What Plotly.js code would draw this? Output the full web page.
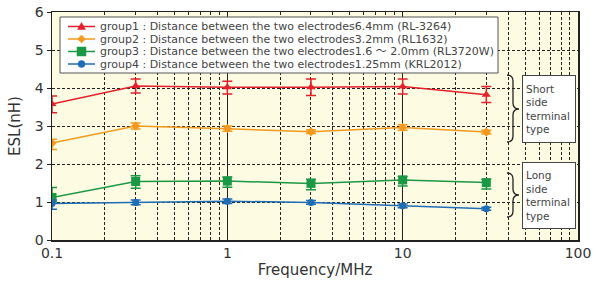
<!DOCTYPE html>
<html><head><meta charset="utf-8">
<script src="https://cdn.plot.ly/plotly-3.0.1.min.js"></script>
<style>html,body{margin:0;padding:0;background:#fff}#c{width:593px;height:282px}</style>
</head><body><div id="c"></div>
<script>
const freq = [0.1, 0.3, 1, 3, 10, 30];
const names = [
  "group1 : Distance between the two electrodes6.4mm (RL-3264)",
  "group2 : Distance between the two electrodes3.2mm (RL1632)",
  "group3 : Distance between the two electrodes1.6 ～ 2.0mm (RL3720W)",
  "group4 : Distance between the two electrodes1.25mm (KRL2012)"
];
const g1 = [3.58, 4.05, 4.02, 4.02, 4.04, 3.82];
const g1Up = [0.21, 0.19, 0.16, 0.22, 0.2, 0.22];
const g1Dn = [0.23, 0.18, 0.18, 0.22, 0.2, 0.2];
const g2 = [2.55, 3.0, 2.93, 2.85, 2.96, 2.84];
const g2Up = [0.1, 0.08, 0.07, 0.05, 0.07, 0.05];
const g2Dn = [0.17, 0.08, 0.07, 0.05, 0.07, 0.05];
const g3 = [1.12, 1.54, 1.55, 1.49, 1.58, 1.51];
const g3Up = [0.26, 0.15, 0.11, 0.11, 0.09, 0.09];
const g3Dn = [0.12, 0.18, 0.16, 0.17, 0.16, 0.17];
const g4 = [0.96, 0.99, 1.02, 0.99, 0.9, 0.82];
const g4Up = [0.09, 0.06, 0.06, 0.05, 0.05, 0.04];
const g4Dn = [0.15, 0.06, 0.06, 0.05, 0.05, 0.04];
const colors = ["#e3202b", "#f39a1e", "#1b9846", "#1f6db5"];
const symbols = ["triangle-up", "diamond", "square", "circle"];
const msizes = [8, 7, 9, 7];
const vals = [g1, g2, g3, g4], ups = [g1Up, g2Up, g3Up, g4Up], dns = [g1Dn, g2Dn, g3Dn, g4Dn];
const xTicks = [0.1, 1, 10, 100];
const xTickText = ["0.1", "1", "10", "100"];
const yTicks = [0, 1, 2, 3, 4, 5, 6];
const minorX = [0.2,0.3,0.4,0.5,0.6,0.7,0.8,0.9,2,3,4,5,6,7,8,9,20,30,40,50,60,70,80,90];

const traces = vals.map((v, i) => ({
  x: freq, y: v, name: names[i], type: "scatter", mode: "lines+markers",
  line: {color: colors[i], width: 1.5},
  marker: {color: colors[i], symbol: symbols[i], size: msizes[i]},
  error_y: {type: "data", symmetric: false, array: ups[i], arrayminus: dns[i], color: colors[i], thickness: 1.5, width: 5}
}));

const L = 52, R = 578, T = 12, B = 240;
const px = x => (x - L) / (R - L);
const py = y => (B - y) / (B - T);
function brace(x0, xm, x1, y0, ymid, y1) {
  const r = 6;
  return `M ${px(x0)} ${py(y0)} Q ${px(xm)} ${py(y0)} ${px(xm)} ${py(y0 + r)} L ${px(xm)} ${py(ymid - r)} Q ${px(xm)} ${py(ymid)} ${px(x1)} ${py(ymid)} Q ${px(xm)} ${py(ymid)} ${px(xm)} ${py(ymid + r)} L ${px(xm)} ${py(y1 - r)} Q ${px(xm)} ${py(y1)} ${px(x0)} ${py(y1)}`;
}
function markerPath(sym, cx, cy) {
  if (sym === "triangle-up") return `M ${px(cx - 4)} ${py(cy + 3)} L ${px(cx + 4)} ${py(cy + 3)} L ${px(cx)} ${py(cy - 4)} Z`;
  if (sym === "diamond") return `M ${px(cx - 4)} ${py(cy)} L ${px(cx)} ${py(cy - 4)} L ${px(cx + 4)} ${py(cy)} L ${px(cx)} ${py(cy + 4)} Z`;
  if (sym === "square") return `M ${px(cx - 4.5)} ${py(cy - 4.5)} L ${px(cx + 4.5)} ${py(cy - 4.5)} L ${px(cx + 4.5)} ${py(cy + 4.5)} L ${px(cx - 4.5)} ${py(cy + 4.5)} Z`;
  return null;
}
const font = "'DejaVu Sans', 'Noto Sans CJK JP', sans-serif";

// manual legend
const legShapes = [{type: "rect", xref: "paper", yref: "paper", x0: px(60), x1: px(498), y0: py(17), y1: py(73),
  fillcolor: "#ffffff", line: {color: "#555", width: 1}, layer: "above"}];
const legAnn = [];
const rowY = [26.5, 39, 51.5, 64];
names.forEach((n, i) => {
  const y = rowY[i];
  legShapes.push({type: "line", xref: "paper", yref: "paper", x0: px(68), x1: px(95), y0: py(y), y1: py(y), line: {color: colors[i], width: 1.5}, layer: "above"});
  const p = markerPath(symbols[i], 81.5, y);
  if (p) legShapes.push({type: "path", xref: "paper", yref: "paper", path: p, fillcolor: colors[i], line: {color: colors[i], width: 0.5}, layer: "above"});
  else legShapes.push({type: "circle", xref: "paper", yref: "paper", x0: px(78), x1: px(85), y0: py(y - 3.5), y1: py(y + 3.5), fillcolor: colors[i], line: {color: colors[i], width: 0.5}, layer: "above"});
  legAnn.push({xref: "paper", yref: "paper", x: px(98), y: py(y), xanchor: "left", yanchor: "middle", showarrow: false,
    text: n, font: {size: 11, color: "#444", family: font}});
});

const layout = {
  width: 593, height: 282,
  margin: {l: L, r: 593 - R, t: T, b: 282 - B},
  paper_bgcolor: "#ffffff", plot_bgcolor: "#fdfbe2",
  font: {family: font, color: "#333"},
  showlegend: false,
  xaxis: {type: "log", range: [-1, 2], tickmode: "array", tickvals: xTicks, ticktext: xTickText,
    showline: true, linecolor: "#222", linewidth: 1.5, mirror: true,
    showgrid: true, gridcolor: "#222", gridwidth: 1,
    ticks: "", tickfont: {size: 14, color: "#333"},
    minor: {tickmode: "array", tickvals: minorX, showgrid: true, gridcolor: "#222", griddash: "3px,2px", gridwidth: 1, ticks: ""},
    title: {text: "Frequency/MHz", font: {size: 15, color: "#333"}, standoff: 4},
    zeroline: false},
  yaxis: {range: [0, 6.0001], tickmode: "array", tickvals: yTicks,
    showline: true, linecolor: "#222", linewidth: 1.5, mirror: true,
    showgrid: true, gridcolor: "#222", griddash: "3px,2px", gridwidth: 1,
    ticks: "outside", ticklen: 4, tickcolor: "#222", tickfont: {size: 14, color: "#333"},
    title: {text: "ESL(nH)", font: {size: 15, color: "#333"}, standoff: 10},
    zeroline: false},
  shapes: [
    {type: "path", xref: "paper", yref: "paper", path: brace(507, 513, 519, 75, 109, 142), line: {color: "#222", width: 1.3}},
    {type: "path", xref: "paper", yref: "paper", path: brace(507, 513, 519, 173, 195, 217), line: {color: "#222", width: 1.3}}
  ].concat(legShapes),
  annotations: [
    {xref: "paper", yref: "paper", x: px(522), y: py(75), xanchor: "left", yanchor: "top",
      text: "Short<br>side<br>terminal<br>type", align: "left", showarrow: false,
      bgcolor: "#ffffff", bordercolor: "#444", borderwidth: 1, borderpad: 3, width: 46, height: 60,
      font: {size: 10.5, color: "#444", family: font}},
    {xref: "paper", yref: "paper", x: px(522), y: py(162), xanchor: "left", yanchor: "top",
      text: "Long<br>side<br>terminal<br>type", align: "left", showarrow: false,
      bgcolor: "#ffffff", bordercolor: "#444", borderwidth: 1, borderpad: 3, width: 46, height: 59,
      font: {size: 10.5, color: "#444", family: font}}
  ].concat(legAnn)
};
Plotly.newPlot("c", traces, layout, {displayModeBar: false, staticPlot: true});
</script></body></html>
